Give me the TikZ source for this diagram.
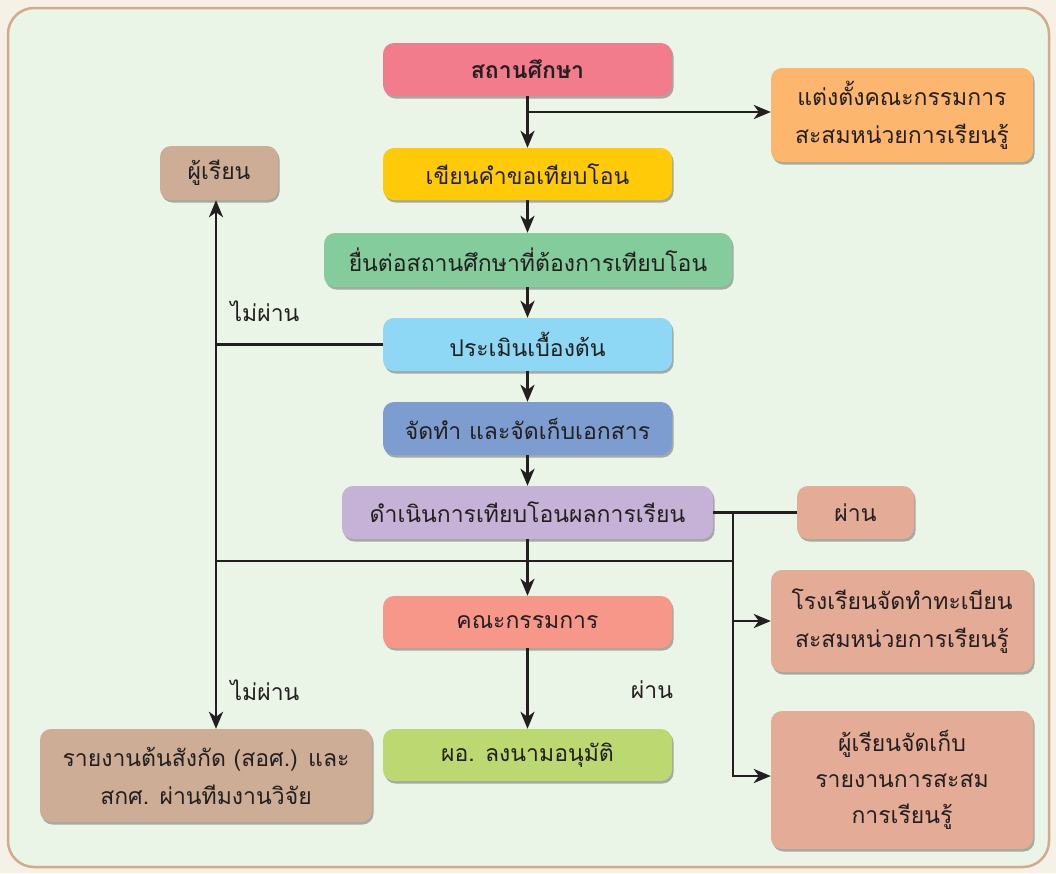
\documentclass[tikz,border=0pt]{standalone}
\usepackage{fontspec}
\newfontfamily\thai[Script=Thai]{Loma}
\usetikzlibrary{shadows,arrows.meta}
\definecolor{bgout}{HTML}{F6F1E7}
\definecolor{bgin}{HTML}{EAF4E7}
\definecolor{frame}{HTML}{D4AA8C}
\definecolor{cpink}{HTML}{F27B8C}
\definecolor{corange}{HTML}{FDB66E}
\definecolor{ctan}{HTML}{CDAD96}
\definecolor{cyellow}{HTML}{FFCB08}
\definecolor{cgreen}{HTML}{84CC9C}
\definecolor{clblue}{HTML}{8ED8F6}
\definecolor{cblue}{HTML}{7D9DD0}
\definecolor{clav}{HTML}{C6B1D7}
\definecolor{csalm}{HTML}{E4AB97}
\definecolor{csalmp}{HTML}{F6978A}
\definecolor{clgreen}{HTML}{BCD871}
\definecolor{ink}{HTML}{231F20}
\begin{document}
\begin{tikzpicture}[x=1pt,y=-1pt,
  box/.style={rounded corners=11pt, inner sep=0pt, align=center,
    font=\thai\fontsize{23}{38}\selectfont, text=ink,
    drop shadow={shadow xshift=1.5pt, shadow yshift=-2.5pt, fill=black, opacity=0.3}},
  conn/.style={draw=ink, line width=2.8pt},
  arr/.style={conn, -{Stealth[length=17pt,width=14pt,inset=5pt]}},
  lbl/.style={font=\thai\fontsize{23}{26}\selectfont, text=ink}]
\useasboundingbox (0,0) rectangle (1056,873);
\fill[bgout] (0,0) rectangle (1056,873);
\draw[frame, fill=bgin, line width=2.5pt, rounded corners=26pt] (8,8) rectangle (1049,867);

\node[box, fill=cpink, minimum width=289pt, minimum height=53pt, font=\thai\bfseries\fontsize{23}{38}\selectfont] (s0) at (527.5,69.5) {สถานศึกษา};
\node[box, fill=corange, minimum width=262pt, minimum height=94pt] (c1) at (902,115) {แต่งตั้งคณะกรรมการ\\สะสมหน่วยการเรียนรู้};
\node[box, fill=ctan, minimum width=118pt, minimum height=54pt] (st) at (219,173) {ผู้เรียน};
\node[box, fill=cyellow, minimum width=289pt, minimum height=52pt] (b1) at (527.5,174) {เขียนคำขอเทียบโอน};
\node[box, fill=cgreen, minimum width=408pt, minimum height=54pt] (b2) at (528,260) {ยื่นต่อสถานศึกษาที่ต้องการเทียบโอน};
\node[box, fill=clblue, minimum width=289pt, minimum height=53pt] (b3) at (527.5,344.5) {ประเมินเบื้องต้น};
\node[box, fill=cblue, minimum width=289pt, minimum height=53pt] (b4) at (527.5,428.5) {จัดทำ และจัดเก็บเอกสาร};
\node[box, fill=clav, minimum width=371pt, minimum height=53pt] (b5) at (527.5,512.5) {ดำเนินการเทียบโอนผลการเรียน};
\node[box, fill=csalm, minimum width=117pt, minimum height=53pt] (pass) at (855.5,512.5) {ผ่าน};
\node[box, fill=csalm, minimum width=262pt, minimum height=102pt] (r1) at (902,621) {โรงเรียนจัดทำทะเบียน\\สะสมหน่วยการเรียนรู้};
\node[box, fill=csalmp, minimum width=289pt, minimum height=52pt] (b6) at (527.5,622) {คณะกรรมการ};
\node[box, fill=clgreen, minimum width=289pt, minimum height=52pt] (b7) at (527.5,755) {ผอ. ลงนามอนุมัติ};
\node[box, fill=ctan, minimum width=332pt, minimum height=93pt] (rep) at (206,775.5) {รายงานต้นสังกัด (สอศ.) และ\\สกศ. ผ่านทีมงานวิจัย};
\node[box, fill=csalm, minimum width=262pt, minimum height=138pt, font=\thai\fontsize{23}{36}\selectfont] (r2) at (902,780) {ผู้เรียนจัดเก็บ\\รายงานการสะสม\\การเรียนรู้};

\coordinate (T) at (527.5,112);
\coordinate (L) at (216,561);
\coordinate (R) at (733,561);
\coordinate (Rb) at (733,776);

\draw[arr] (s0.south) -- (b1.north);
\draw[arr] (T) -- (T -| c1.west);
\draw[arr] (b1.south) -- (b2.north -| b1.south);
\draw[arr] (b2.south -| b1.south) -- (b3.north);
\draw[arr] (b3.south) -- (b4.north);
\draw[arr] (b4.south) -- (b5.north);
\draw[arr] (b5.south) -- (b6.north);
\draw[arr] (b6.south) -- (b7.north);
\draw[conn] (L) -- (R);
\draw[arr] (L) -- (L |- st.south);
\draw[arr] (L) -- (L |- rep.north);
\draw[conn] (b3.west) -- (b3.west -| L);
\draw[conn] (b5.east) -- (pass.west);
\draw[arr] (R |- b5.east) -- (Rb) -- (Rb -| r2.west);
\draw[arr] (R |- r1.west) -- (r1.west);

\node[lbl] (n1) at (265,311) {ไม่ผ่าน};
\node[lbl] (n2) at (265,690) {ไม่ผ่าน};
\node[lbl] (n3) at (652,690) {ผ่าน};
\end{tikzpicture}
\end{document}
